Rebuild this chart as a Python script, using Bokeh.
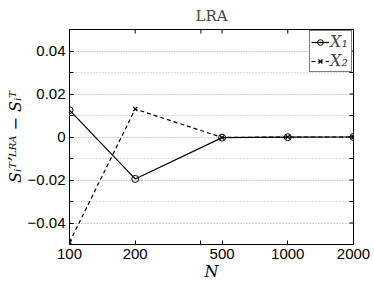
import math
from bokeh.plotting import figure
from bokeh.models import Range1d, FixedTicker, Legend, LegendItem
from bokeh.embed import file_html
from bokeh.resources import INLINE

N = [100, 200, 500, 1000, 2000]
x1 = [0.0125, -0.0195, -0.0003, -0.0001, 0.0]
x2 = [-0.049, 0.013, -0.0002, 0.0, 0.0]
xticks = [100, 200, 500, 1000, 2000]
xminor = [400]
yticks = [-0.04, -0.02, 0.0, 0.02, 0.04]
yminor = [-0.05, -0.04, -0.03, -0.02, -0.01, 0.0, 0.01, 0.02, 0.03, 0.04, 0.05]
xlim = (100, 2000)
ylim = (-0.05, 0.05)

p = figure(width=374, height=283, x_axis_type="log", output_backend="svg",
           toolbar_location=None, x_range=Range1d(*xlim), y_range=Range1d(*ylim),
           min_border_left=69, min_border_right=21, min_border_top=25, min_border_bottom=35)
p.title.text = "LRA"
p.title.align = "center"
p.title.text_font = "DejaVu Serif"
p.title.text_font_style = "normal"
p.title.text_font_size = "15px"
p.title.standoff = 9
p.title.offset = 0
p.outline_line_color = "black"
p.outline_line_width = 1
p.background_fill_color = "white"

p.xaxis.ticker = FixedTicker(ticks=xticks, minor_ticks=xminor)
p.xaxis.major_label_overrides = {t: str(t) for t in xticks}
p.yaxis.ticker = FixedTicker(ticks=yticks, minor_ticks=yminor)
p.yaxis.major_label_overrides = {-0.04: "\u22120.04", -0.02: "\u22120.02", 0.0: "0", 0.02: "0.02", 0.04: "0.04"}
for ax in (p.xaxis, p.yaxis):
    ax.major_label_text_font = "Liberation Sans"
    ax.major_label_text_font_size = "15px"
    ax.major_label_text_color = "black"
    ax.axis_line_color = "black"
    ax.major_tick_in = 4
    ax.major_tick_out = 0
    ax.minor_tick_in = 4
    ax.minor_tick_out = 0
    ax.axis_label_text_font = "DejaVu Serif"
    ax.axis_label_text_font_style = "italic"
    ax.axis_label_text_font_size = "16px"
    ax.axis_label_standoff = 0
    ax.axis_label_text_color = "black"
p.yaxis.major_label_standoff = 4
p.xaxis.major_label_standoff = 4
p.xaxis.axis_label = "N"
p.yaxis.axis_label = "S\u1d62\u1d40\u02bc\u1d38\u1d3f\u1d2c \u2212 S\u1d62\u1d40"

# mirrored ticks on the top and right edges of the frame (clipped to frame)
tx = xticks + xminor
p.scatter(tx, [ylim[1]] * len(tx), marker="dash", size=8, angle=math.pi / 2,
          line_color="black", line_width=1)
p.scatter([xlim[1]] * len(yminor), yminor, marker="dash", size=8,
          line_color="black", line_width=1)

p.xgrid.grid_line_color = None
p.ygrid.grid_line_color = "#bbbbbb"
p.ygrid.grid_line_dash = "1 2"
p.ygrid.minor_grid_line_color = "#bbbbbb"
p.ygrid.minor_grid_line_dash = "1 2"

l1 = p.line(N, x1, line_color="black", line_width=1.2)
s1 = p.scatter(N, x1, marker="circle", size=7, fill_color=None, line_color="black", line_width=1)
l2 = p.line(N, x2, line_color="black", line_width=1.2, line_dash="4 3")
s2 = p.scatter(N, x2, marker="x", size=6, line_color="black", line_width=1.2)

legend = Legend(items=[LegendItem(label="X\u2081", renderers=[l1, s1]),
                       LegendItem(label="X\u2082", renderers=[l2, s2])],
                location="top_right")
legend.label_text_font = "DejaVu Serif"
legend.label_text_font_style = "italic"
legend.label_text_font_size = "16px"
legend.border_line_color = "black"
legend.border_line_width = 1
legend.margin = 1
legend.padding = 1
legend.spacing = 0
legend.glyph_width = 18
legend.glyph_height = 14
legend.label_height = 14
legend.label_standoff = 1
p.add_layout(legend)

open("out.html", "w").write(file_html(p, INLINE))
